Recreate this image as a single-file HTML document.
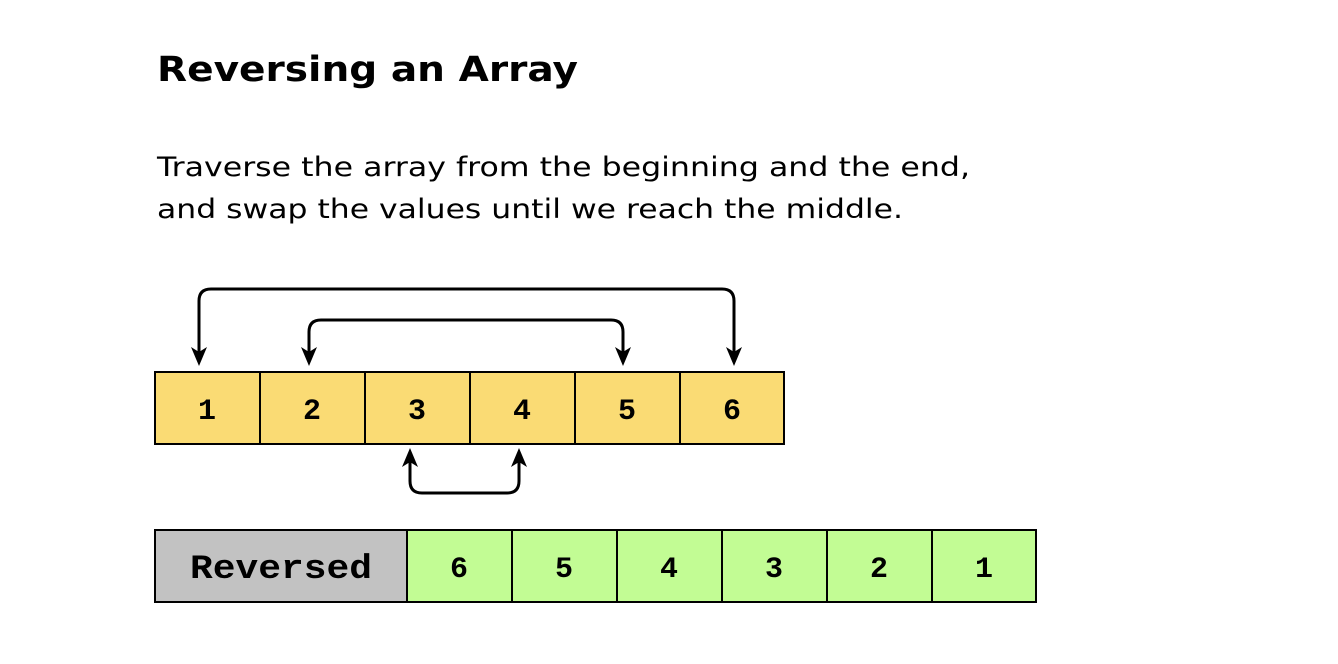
<!DOCTYPE html>
<html><head><meta charset="utf-8"><style>
html,body{margin:0;padding:0;background:#fff;}
svg{display:block}
</style></head><body>
<svg width="1338" height="664" viewBox="0 0 1338 664" xmlns="http://www.w3.org/2000/svg">
<text x="157" y="81" font-family="DejaVu Sans, sans-serif" font-weight="bold" font-size="35" textLength="421" lengthAdjust="spacingAndGlyphs">Reversing an Array</text>
<text x="157" y="176" font-family="DejaVu Sans, sans-serif" font-size="27" textLength="813" lengthAdjust="spacingAndGlyphs">Traverse the array from the beginning and the end,</text>
<text x="157" y="218" font-family="DejaVu Sans, sans-serif" font-size="27" textLength="746" lengthAdjust="spacingAndGlyphs">and swap the values until we reach the middle.</text>
<g stroke="#000" stroke-width="2" fill="#fadb74">
<rect x="155" y="372" width="105" height="72"/>
<rect x="260" y="372" width="105" height="72"/>
<rect x="365" y="372" width="105" height="72"/>
<rect x="470" y="372" width="105" height="72"/>
<rect x="575" y="372" width="105" height="72"/>
<rect x="680" y="372" width="104" height="72"/>
</g>
<g font-family="Liberation Mono, monospace" font-size="30" font-weight="bold" text-anchor="middle">
<text x="207" y="419">1</text><text x="312" y="419">2</text><text x="417" y="419">3</text>
<text x="522" y="419">4</text><text x="627" y="419">5</text><text x="732" y="419">6</text>
</g>
<g stroke="#000" stroke-width="2">
<rect x="155" y="530" width="252" height="72" fill="#c2c2c2"/>
<g fill="#c2fc94">
<rect x="407" y="530" width="105" height="72"/>
<rect x="512" y="530" width="105" height="72"/>
<rect x="617" y="530" width="105" height="72"/>
<rect x="722" y="530" width="105" height="72"/>
<rect x="827" y="530" width="105" height="72"/>
<rect x="932" y="530" width="104" height="72"/>
</g></g>
<g font-family="Liberation Mono, monospace" font-size="30" font-weight="bold" text-anchor="middle">
<text x="281" y="578" font-size="34" textLength="182" lengthAdjust="spacingAndGlyphs">Reversed</text>
<text x="459" y="577">6</text><text x="564" y="577">5</text><text x="669" y="577">4</text>
<text x="774" y="577">3</text><text x="879" y="577">2</text><text x="984" y="577">1</text>
</g>
<g fill="none" stroke="#000" stroke-width="3">
<path d="M199 352 V301 Q199 289 211 289 H722 Q734 289 734 301 V352"/>
<path d="M309 352 V332 Q309 320 321 320 H611 Q623 320 623 332 V352"/>
<path d="M410 462 V481 Q410 493 422 493 H507 Q519 493 519 481 V462"/>
</g>
<g fill="#000">
<path d="M199 366 L191 347 L199 352 L207 347Z"/>
<path d="M734 366 L726 347 L734 352 L742 347Z"/>
<path d="M309 366 L301 347 L309 352 L317 347Z"/>
<path d="M623 366 L615 347 L623 352 L631 347Z"/>
<path d="M410 448 L402 467 L410 462 L418 467Z"/>
<path d="M519 448 L511 467 L519 462 L527 467Z"/>
</g>
</svg>
</body></html>
